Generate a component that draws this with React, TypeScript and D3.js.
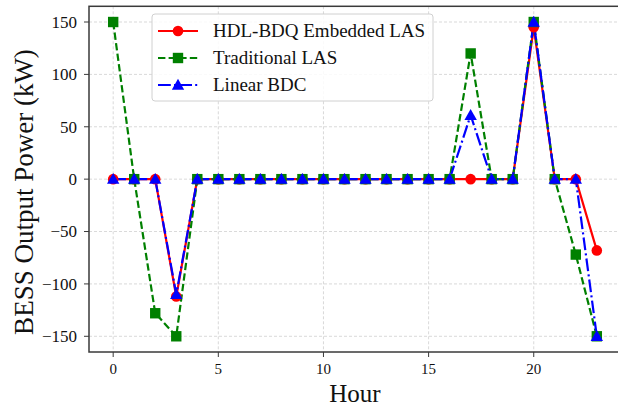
import * as d3 from "d3";

const hours = [0, 1, 2, 3, 4, 5, 6, 7, 8, 9, 10, 11, 12, 13, 14, 15, 16, 17, 18, 19, 20, 21, 22, 23];
const hdlValues = [0, 0, 0, -112, 0, 0, 0, 0, 0, 0, 0, 0, 0, 0, 0, 0, 0, 0, 0, 0, 145, 0, 0, -68];
const tradValues = [150, 0, -128, -150, 0, 0, 0, 0, 0, 0, 0, 0, 0, 0, 0, 0, 0, 120, 0, 0, 150, 0, -72, -150];
const bdcValues = [0, 0, 0, -110, 0, 0, 0, 0, 0, 0, 0, 0, 0, 0, 0, 0, 0, 61, 0, 0, 150, 0, 0, -150];
const xTicks = [0, 5, 10, 15, 20];
const yTicks = [-150, -100, -50, 0, 50, 100, 150];
const seriesNames = ["HDL-BDQ Embedded LAS", "Traditional LAS", "Linear BDC"];

const FONT = "'Liberation Serif', 'Times New Roman', serif";

const width = 618;
const height = 406;

export default function App() {
  const x = d3.scaleLinear().domain([-1.15, 24.15]).range([89, 621]);
  const y = d3.scaleLinear().domain([-165, 165]).range([352, 6.3]);

  const line = d3
    .line<number>()
    .x((_, i) => x(hours[i]))
    .y((d) => y(d));

  const series = [
    { name: seriesNames[0], values: hdlValues, color: "#ff0000", dash: "none", marker: "circle" },
    { name: seriesNames[1], values: tradValues, color: "#008000", dash: "7.4,3.2", marker: "square" },
    { name: seriesNames[2], values: bdcValues, color: "#0000ff", dash: "12.8,3.2,2,3.2", marker: "triangle" },
  ];

  const marker = (type: string, cx: number, cy: number, color: string, key: string | number) => {
    if (type === "circle") return <circle key={key} cx={cx} cy={cy} r={5.3} fill={color} />;
    if (type === "square")
      return <rect key={key} x={cx - 5.2} y={cy - 5.2} width={10.4} height={10.4} fill={color} />;
    const s = 6.2;
    return (
      <path
        key={key}
        d={`M${cx},${cy - s}L${cx + s},${cy + s * 0.75}L${cx - s},${cy + s * 0.75}Z`}
        fill={color}
      />
    );
  };

  const [x0, x1] = x.range();
  const [yb, yt] = y.range();

  return (
    <svg width={width} height={height} style={{ position: "absolute", left: 0, top: 0 }} fontFamily={FONT}>
      <rect width={width} height={height} fill="#fff" />
      {/* grid */}
      <g stroke="#cfcfcf" strokeWidth={0.8} strokeDasharray="3,2">
        {xTicks.map((t) => (
          <line key={"gx" + t} x1={x(t)} x2={x(t)} y1={yt} y2={yb} />
        ))}
        {yTicks.map((t) => (
          <line key={"gy" + t} x1={x0} x2={x1} y1={y(t)} y2={y(t)} />
        ))}
      </g>

      {/* lines */}
      {series.map((s) => (
        <path
          key={s.name}
          d={line(s.values) ?? ""}
          fill="none"
          stroke={s.color}
          strokeWidth={2.2}
          strokeDasharray={s.dash}
        />
      ))}
      {series.map((s) => (
        <g key={s.name + "m"}>{s.values.map((v, i) => marker(s.marker, x(hours[i]), y(v), s.color, i))}</g>
      ))}

      {/* frame */}
      <rect x={x0} y={yt} width={x1 - x0} height={yb - yt} fill="none" stroke="#3a3a3a" strokeWidth={1.5} />

      {/* x axis */}
      {xTicks.map((t) => (
        <g key={"xt" + t}>
          <line x1={x(t)} x2={x(t)} y1={yb} y2={yb + 5} stroke="#3a3a3a" strokeWidth={1} />
          <text x={x(t)} y={374} textAnchor="middle" fontSize={15} fill="#111">
            {t}
          </text>
        </g>
      ))}
      {/* y axis */}
      {yTicks.map((t) => (
        <g key={"yt" + t}>
          <line x1={x0 - 5} x2={x0} y1={y(t)} y2={y(t)} stroke="#3a3a3a" strokeWidth={1} />
          <text x={77} y={y(t)} dy="0.34em" textAnchor="end" fontSize={17} fill="#111">
            {t < 0 ? "\u2212" + Math.abs(t) : t}
          </text>
        </g>
      ))}

      <text x={(x0 + x1) / 2} y={402} textAnchor="middle" fontSize={25} fill="#111">
        Hour
      </text>
      <text transform="translate(33,192) rotate(-90)" textAnchor="middle" fontSize={27} fill="#111">
        BESS Output Power (kW)
      </text>

      {/* legend */}
      <g>
        <rect x={152} y={14} width={281} height={87} rx={3} fill="#fff" fillOpacity={0.85} stroke="#d0d0d0" />
        {series.map((s, i) => {
          const ly = 31 + i * 27;
          return (
            <g key={"lg" + s.name}>
              <line x1={158} x2={198} y1={ly} y2={ly} stroke={s.color} strokeWidth={2.2} strokeDasharray={s.dash} />
              {marker(s.marker, 178, ly, s.color, "m")}
              <text x={213} y={ly} dy="0.33em" fontSize={19} fill="#111">
                {s.name}
              </text>
            </g>
          );
        })}
      </g>
    </svg>
  );
}
